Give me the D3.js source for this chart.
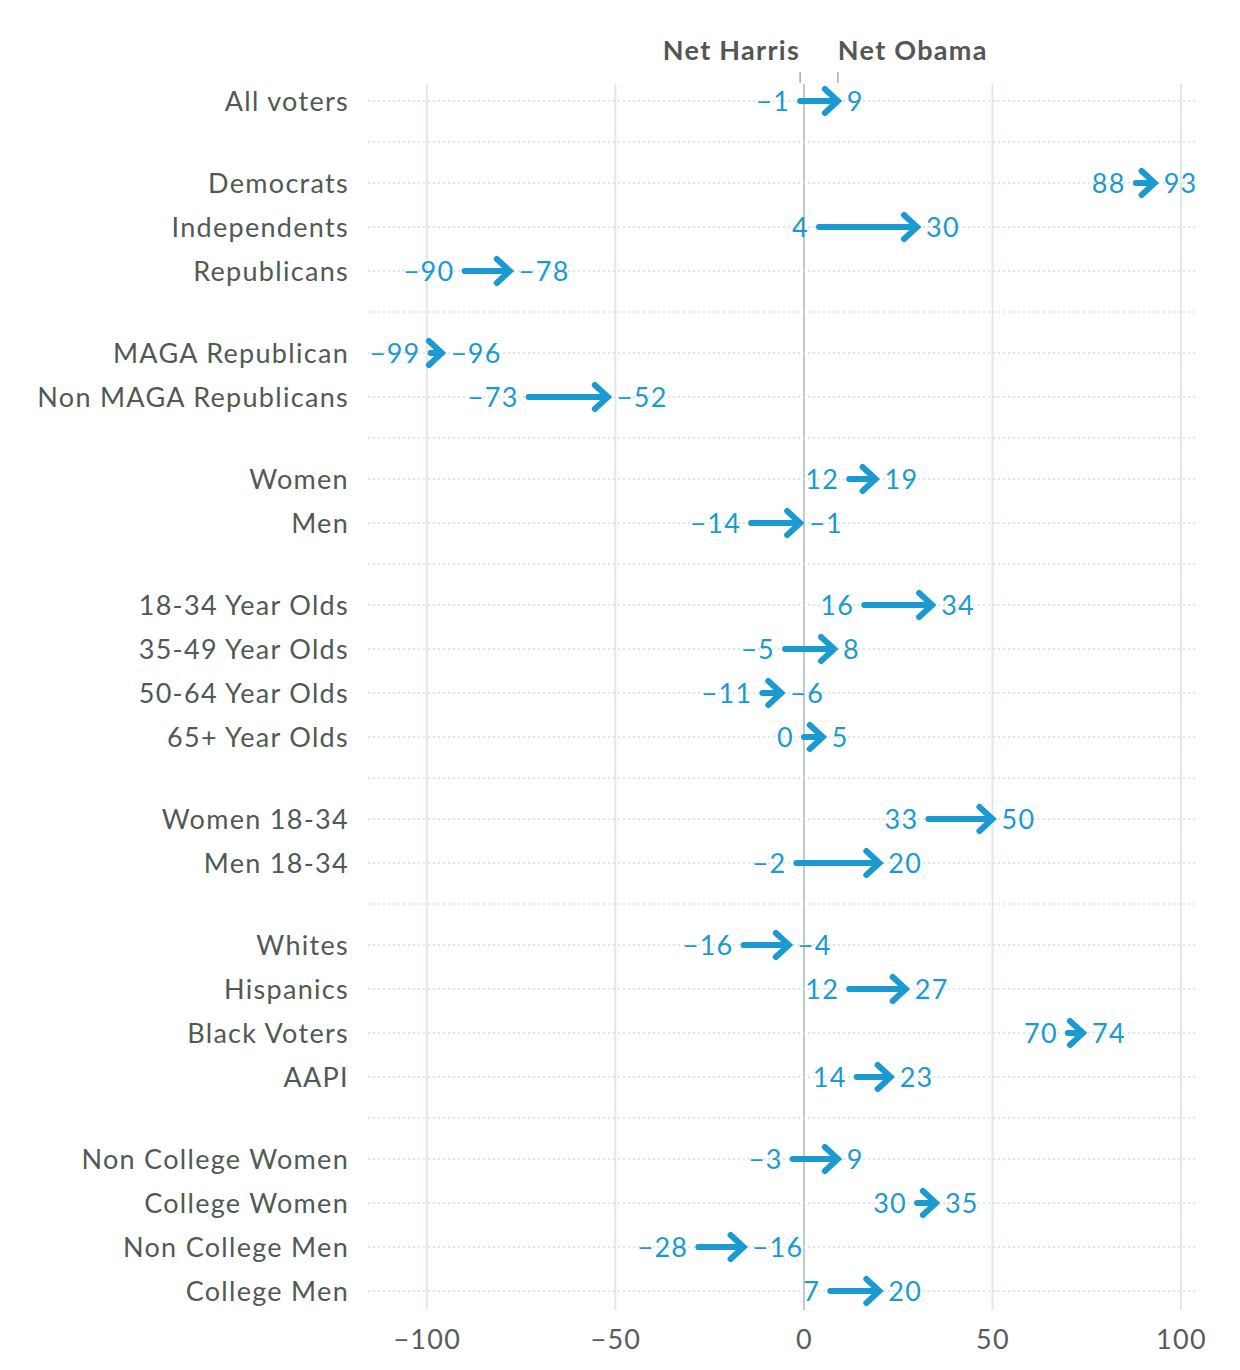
<!DOCTYPE html>
<html>
<head>
<meta charset="utf-8">
<script src="https://cdn.jsdelivr.net/npm/d3@7"></script>
<style>
  body { margin: 0; background: #fff; }
  svg text { font-family: Lato, "Open Sans", sans-serif; letter-spacing: 1.3px; }
</style>
</head>
<body>
<svg id="chart" width="1240" height="1370"></svg>
<script>
// groups of rows, a gap is drawn between each group
const groups = [
    ["All voters"],
    ["Democrats", "Independents", "Republicans"],
    ["MAGA Republican", "Non MAGA Republicans"],
    ["Women", "Men"],
    ["18-34 Year Olds", "35-49 Year Olds", "50-64 Year Olds", "65+ Year Olds"],
    ["Women 18-34", "Men 18-34"],
    ["Whites", "Hispanics", "Black Voters", "AAPI"],
    ["Non College Women", "College Women", "Non College Men", "College Men"]
];
// net Harris (start) -> net Obama (end)
const netHarris = [-1, 88, 4, -90, -99, -73, 12, -14, 16, -5, -11, 0, 33, -2, -16, 12, 70, 14, -3, 30, -28, 7];
const netObama  = [9, 93, 30, -78, -96, -52, 19, -1, 34, 8, -6, 5, 50, 20, -4, 27, 74, 23, 9, 35, -16, 20];
const xTicks = [-100, -50, 0, 50, 100];

const blue = "#1b9ad2";
const fs = 27;
const svg = d3.select("#chart");

const x = d3.scaleLinear().domain([-115.6, 104.5]).range([368, 1198]);

// row slot: 1 per row, a group gap counts a bit less than a row
const gapUnit = 38 / 44;
let rows = [];
let seps = [];
let k = 0;
groups.forEach((g, gi) => {
    g.forEach((name, ri) => {
        rows.push({ name: name, pos: k + ri + gi * gapUnit, start: netHarris[k + ri], end: netObama[k + ri] });
    });
    k += g.length;
    if (gi < groups.length - 1) {
        seps.push(k - 1 + gi * gapUnit + (1 + gapUnit) / 2);
    }
});
const y = d3.scaleLinear().domain([0, d3.max(rows, d => d.pos)]).range([101, 1291]);

// vertical grid
svg.append("g").selectAll("line")
    .data(xTicks)
    .join("line")
    .attr("x1", d => x(d)).attr("x2", d => x(d))
    .attr("y1", 84).attr("y2", 1310)
    .attr("stroke", d => d === 0 ? "#bfc9c3" : "#dfebe0")
    .attr("stroke-width", 2);

// dotted row lines + separators
svg.append("g").selectAll("line")
    .data(rows.map(d => d.pos).concat(seps))
    .join("line")
    .attr("x1", 368).attr("x2", 1198)
    .attr("y1", d => y(d)).attr("y2", d => y(d))
    .attr("stroke", "#d2e5d5")
    .attr("stroke-width", 1.5)
    .attr("stroke-dasharray", "2,3");

// x axis labels
const xAxis = d3.axisBottom(x).tickValues(xTicks).tickSize(0).tickPadding(0)
    .tickFormat(d => d3.format("")(d).replace("-", "\u2212"));
const ax = svg.append("g").attr("transform", "translate(0,1349)").call(xAxis);
ax.select(".domain").remove();
ax.selectAll("text")
    .attr("dy", 0)
    .attr("font-size", fs)
    .attr("fill", "#555e58")
    .style("font-family", "Lato, sans-serif");

// row labels
svg.append("g").selectAll("text")
    .data(rows)
    .join("text")
    .attr("x", 349)
    .attr("y", d => y(d.pos))
    .attr("dy", "0.38em")
    .attr("text-anchor", "end")
    .attr("font-size", fs)
    .attr("fill", "#4f5a54")
    .text(d => d.name);

// header annotations
const first = rows[0];
svg.append("text")
    .attr("x", x(first.start)).attr("y", 60)
    .attr("text-anchor", "end")
    .attr("font-size", fs).attr("font-weight", "bold")
    .attr("fill", "#555")
    .text("Net Harris");
svg.append("text")
    .attr("x", x(first.end)).attr("y", 60)
    .attr("text-anchor", "start")
    .attr("font-size", fs).attr("font-weight", "bold")
    .attr("fill", "#555")
    .text("Net Obama");
svg.append("g").selectAll("line")
    .data([first.start, first.end])
    .join("line")
    .attr("x1", d => x(d)).attr("x2", d => x(d))
    .attr("y1", 72).attr("y2", 83)
    .attr("stroke", "#aaa").attr("stroke-width", 1.5);

// arrows
const fmt = v => String(v).replace("-", "\u2212");
const arrows = svg.append("g").selectAll("g")
    .data(rows)
    .join("g")
    .attr("transform", d => `translate(0,${y(d.pos)})`);

arrows.append("line")
    .attr("x1", d => x(d.start))
    .attr("x2", d => x(d.end) - 3)
    .attr("y1", 0).attr("y2", 0)
    .attr("stroke", blue)
    .attr("stroke-width", 6)
    .attr("stroke-linecap", "round");

arrows.append("path")
    .attr("d", d => {
        const t = x(d.end);
        return `M${t - 13},-12 L${t},0 L${t - 13},12`;
    })
    .attr("fill", "none")
    .attr("stroke", blue)
    .attr("stroke-width", 6)
    .attr("stroke-linecap", "round")
    .attr("stroke-linejoin", "miter");

arrows.append("text")
    .attr("x", d => x(d.start) - 10)
    .attr("dy", "0.38em")
    .attr("text-anchor", "end")
    .attr("font-size", fs)
    .attr("fill", blue)
    .text(d => fmt(d.start));

arrows.append("text")
    .attr("x", d => x(d.end) + 9)
    .attr("dy", "0.38em")
    .attr("text-anchor", "start")
    .attr("font-size", fs)
    .attr("fill", blue)
    .text(d => fmt(d.end));
</script>
</body>
</html>
